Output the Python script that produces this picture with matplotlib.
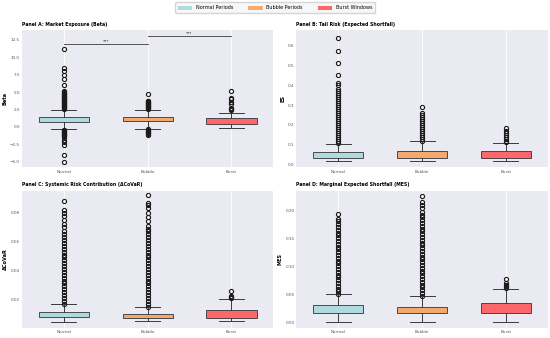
import matplotlib.pyplot as plt
from matplotlib.patches import Patch

# Groups and colours
groups = ["Normal", "Bubble", "Burst"]
legend_labels = ["Normal Periods", "Bubble Periods", "Burst Windows"]
colors = ["#A8DADC", "#F4A261", "#FF595E"]

# Box statistics: (whislo, q1, med, q3, whishi)
beta_box = [(-0.33, 0.7, 1.1, 1.5, 2.5), (-0.23, 0.8, 1.2, 1.5, 2.5), (-0.2, 0.5, 0.9, 1.3, 2.0)]
es_box = [(0.018, 0.031, 0.045, 0.063, 0.105), (0.018, 0.031, 0.05, 0.066, 0.118), (0.018, 0.035, 0.05, 0.066, 0.11)]
covar_box = [(0.0044, 0.0076, 0.0095, 0.0115, 0.0168), (0.0049, 0.0069, 0.0085, 0.0102, 0.0145), (0.0051, 0.0074, 0.0098, 0.0127, 0.0202)]
mes_box = [(0.0, 0.0165, 0.024, 0.030, 0.050), (0.0, 0.0165, 0.022, 0.028, 0.0466), (0.0, 0.0165, 0.025, 0.0336, 0.059)]

# Outliers
beta_fliers = [
    [2.6, 2.7, 2.8, 2.9, 3.0, 3.1, 3.2, 3.3, 3.4, 3.5, 3.6, 3.7, 3.8, 3.9, 4.0, 4.1, 4.2, 4.3, 4.4,
     4.5, 4.6, 4.7, 4.8, 4.9, 5.0, 5.1, 6.0, 6.9, 7.5, 8.1, 8.5, 11.2,
     -0.4, -0.5, -0.6, -0.7, -0.8, -0.9, -1.0, -1.1, -1.2, -1.3, -1.4, -1.8, -2.1, -2.6, -4.0, -5.0],
    [2.6, 2.7, 2.8, 2.9, 3.0, 3.1, 3.2, 3.3, 3.4, 3.5, 3.6, 3.7, 3.8, 4.8,
     -0.35, -0.45, -0.55, -0.65, -0.75, -0.85, -0.95, -1.2],
    [2.5, 2.6, 2.7, 3.3, 3.6, 4.0, 4.2, 5.2],
]
es_fliers = [
    [0.11, 0.12, 0.13, 0.14, 0.15, 0.16, 0.17, 0.18, 0.19, 0.20, 0.21, 0.22, 0.23, 0.24, 0.25, 0.26,
     0.27, 0.28, 0.29, 0.30, 0.31, 0.32, 0.33, 0.34, 0.35, 0.36, 0.37, 0.38, 0.40, 0.41, 0.45,
     0.51, 0.57, 0.64],
    [0.12, 0.13, 0.14, 0.15, 0.16, 0.17, 0.18, 0.19, 0.20, 0.21, 0.22, 0.23, 0.24, 0.25, 0.26, 0.29],
    [0.115, 0.12, 0.13, 0.14, 0.15, 0.16, 0.17, 0.185],
]
covar_fliers = [
    [0.017, 0.019, 0.021, 0.023, 0.025, 0.027, 0.029, 0.031, 0.033, 0.035, 0.037, 0.039, 0.041,
     0.043, 0.045, 0.047, 0.049, 0.051, 0.053, 0.055, 0.057, 0.059, 0.061, 0.063, 0.065, 0.067,
     0.070, 0.072, 0.075, 0.078, 0.080, 0.082, 0.088],
    [0.015, 0.017, 0.019, 0.021, 0.023, 0.025, 0.027, 0.029, 0.031, 0.033, 0.035, 0.037, 0.039,
     0.041, 0.043, 0.045, 0.047, 0.049, 0.051, 0.053, 0.055, 0.057, 0.059, 0.061, 0.063, 0.065,
     0.067, 0.069, 0.071, 0.074, 0.077, 0.080, 0.083, 0.085, 0.087, 0.092],
    [0.021, 0.0215, 0.022, 0.026],
]
mes_fliers = [
    [0.051, 0.055, 0.06, 0.065, 0.07, 0.075, 0.08, 0.085, 0.09, 0.095, 0.10, 0.105, 0.11, 0.115,
     0.12, 0.125, 0.13, 0.135, 0.14, 0.145, 0.15, 0.155, 0.16, 0.165, 0.17, 0.175, 0.18, 0.185, 0.193],
    [0.047, 0.052, 0.057, 0.062, 0.067, 0.072, 0.077, 0.082, 0.087, 0.092, 0.097, 0.102, 0.107,
     0.112, 0.117, 0.122, 0.127, 0.132, 0.137, 0.142, 0.147, 0.152, 0.157, 0.162, 0.167, 0.172,
     0.177, 0.182, 0.187, 0.192, 0.197, 0.203, 0.21, 0.215, 0.225],
    [0.061, 0.064, 0.067, 0.07, 0.078],
]

panels = [
    ("Panel A: Market Exposure (Beta)", "Beta", beta_box, beta_fliers, (-5.8, 13.9)),
    ("Panel B: Tail Risk (Expected Shortfall)", "ES", es_box, es_fliers, (-0.015, 0.678)),
    ("Panel C: Systemic Risk Contribution (\u0394CoVaR)", "\u0394CoVaR", covar_box, covar_fliers, (0.0003, 0.0953)),
    ("Panel D: Marginal Expected Shortfall (MES)", "MES", mes_box, mes_fliers, (-0.01, 0.235)),
]

fig, axes = plt.subplots(2, 2, figsize=(5.5, 3.38), dpi=100)
fig.subplots_adjust(left=0.04, right=0.996, top=0.911, bottom=0.03, wspace=0.092, hspace=0.168)

for ax, (title, ylabel, boxes, fliers, ylim) in zip(axes.flat, panels):
    stats = []
    for g, b, f in zip(groups, boxes, fliers):
        stats.append({"label": g, "whislo": b[0], "q1": b[1], "med": b[2], "q3": b[3],
                      "whishi": b[4], "fliers": f})
    bp = ax.bxp(stats, positions=[0, 1, 2], widths=0.6, patch_artist=True,
                boxprops=dict(linewidth=0.7, edgecolor="#3a3a3a"),
                medianprops=dict(color="#3a3a3a", linewidth=0),
                whiskerprops=dict(color="#3a3a3a", linewidth=0.7),
                capprops=dict(color="#3a3a3a", linewidth=0.7),
                flierprops=dict(marker="o", markersize=3.0, markerfacecolor="none",
                                markeredgecolor="#1a1a1a", markeredgewidth=0.8))
    for patch, c in zip(bp["boxes"], colors):
        patch.set_facecolor(c)
        patch.set_alpha(0.9)
    ax.set_facecolor("#EAEAF2")
    for s in ax.spines.values():
        s.set_visible(False)
    ax.grid(axis="x", color="white", linewidth=0.6)
    ax.set_axisbelow(True)
    ax.set_xlim(-0.5, 2.5)
    ax.set_ylim(*ylim)
    ax.tick_params(labelsize=3.0, colors="#555555", length=0, pad=1.5)
    ax.set_title(title, loc="left", fontsize=3.3, fontweight="bold", pad=3)
    ax.set_ylabel(ylabel, fontsize=3.6, fontweight="bold", labelpad=2)

# Significance brackets on panel A
ax = axes[0, 0]
for x1, x2, y in [(0, 1, 11.9), (1, 2, 13.0)]:
    ax.plot([x1, x2], [y, y], color="#555555", linewidth=0.7)
    ax.text((x1 + x2) / 2, y + 0.15, "***", ha="center", va="bottom", fontsize=3.0)

handles = [Patch(facecolor=c, alpha=0.9, label=l) for c, l in zip(colors, legend_labels)]
fig.legend(handles=handles, loc="upper center", ncol=3, fontsize=3.5, frameon=True,
           bbox_to_anchor=(0.5, 1.0), handlelength=3.0, handleheight=0.9, columnspacing=3.0,
           borderpad=0.6, edgecolor="#cccccc", facecolor="#f5f5f5")

fig.savefig("out.png", dpi=100)
